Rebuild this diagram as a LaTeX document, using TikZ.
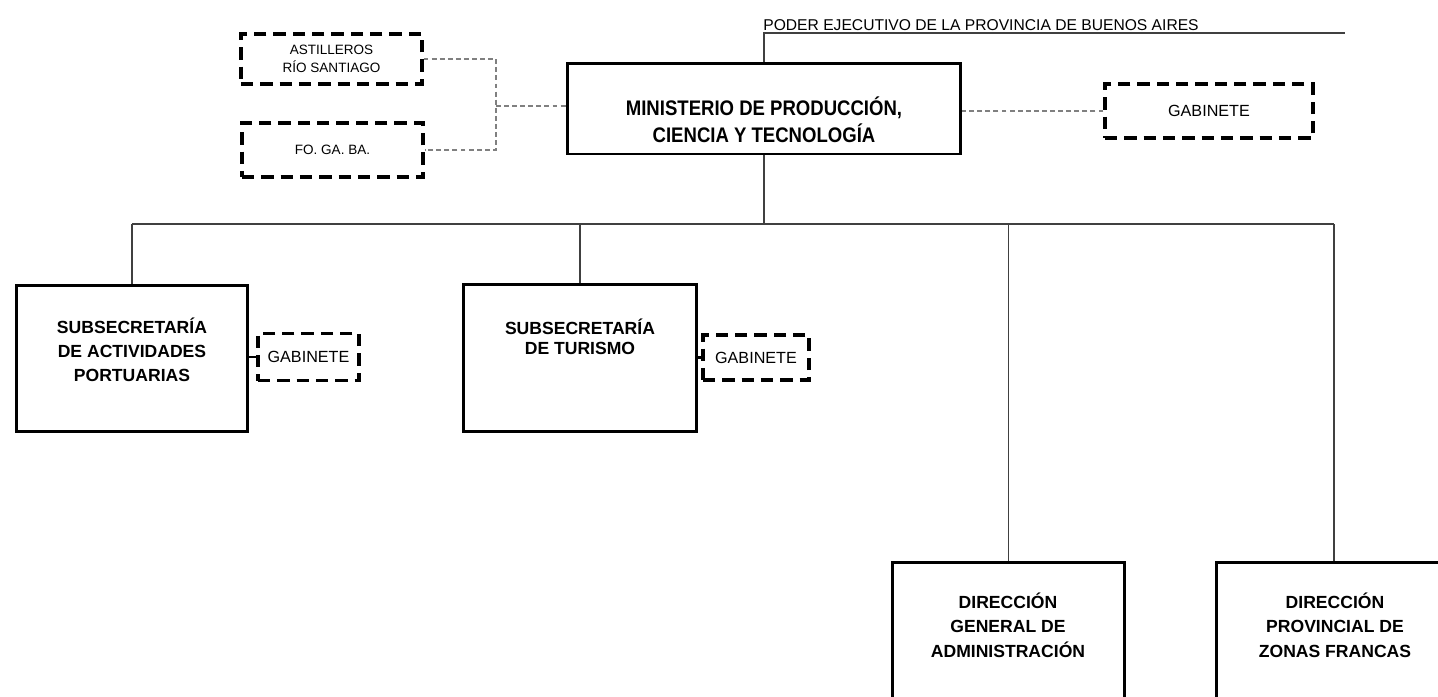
\documentclass[tikz,border=0pt]{standalone}
\usepackage{fontspec}
\setmainfont{Liberation Sans}
\newfontfamily\angosta[FakeStretch=0.88]{Liberation Sans}

\begin{document}
\begin{tikzpicture}[x=0.02cm,y=-0.02cm,
    caja/.style={draw=black,line width=1.7pt,inner sep=0pt},
    cajad/.style={draw=black,line width=1.8pt,dash pattern=on 7pt off 4pt,inner sep=0pt,align=center,font=\fontsize{9.2}{11}\selectfont},
    linea/.style={draw=black!75,line width=0.75pt},
    lineag/.style={draw=black!50,line width=0.6pt,dash pattern=on 2.8pt off 1.8pt},
    texto/.style={align=center,inner sep=0pt,font=\bfseries\fontsize{10}{13.7}\selectfont}]
    \clip (0,0) rectangle (1438,697);

    % Poder ejecutivo
    \coordinate (pe) at (764,33);
    \coordinate (pefin) at (1345,33);
    \node[anchor=south west,inner sep=0pt,font=\fontsize{8.9}{10}\selectfont] (poder) at (763,31) {PODER EJECUTIVO DE LA PROVINCIA DE BUENOS AIRES};

    % Ministerio
    \node[caja,minimum width=7.88cm,minimum height=1.82cm] (min) at (764,108.5) {};
    \node[texto,font=\angosta\bfseries\fontsize{12}{15.4}\selectfont] (mint) at (764,120) {MINISTERIO DE PRODUCCIÓN,\\CIENCIA Y TECNOLOGÍA};
    \draw[linea] (min.north) -- (pe) -- (pefin);

    % Organismos y gabinete del ministro
    \node[cajad,minimum width=3.62cm,minimum height=1cm,font=\fontsize{7.7}{10.2}\selectfont] (ast) at (331.5,59) {ASTILLEROS\\RÍO SANTIAGO};
    \node[cajad,minimum width=3.62cm,minimum height=1.08cm,font=\fontsize{7.7}{10.2}\selectfont] (fgb) at (332.5,150) {FO. GA. BA.};
    \node[cajad,minimum width=4.16cm,minimum height=1.08cm] (gab) at (1209,111) {GABINETE};
    \coordinate (izq) at (496,106);
    \draw[lineag] (ast.east) -| (izq) |- (fgb.east);
    \draw[lineag] (izq) -- (izq -| min.west);
    \draw[lineag] (gab.west) -- (gab.west -| min.east);

    % Subsecretarias
    \node[caja,minimum width=4.64cm,minimum height=2.94cm] (sap) at (132,358.5) {};
    \node[texto] (sapt) at (132,350) {SUBSECRETARÍA\\DE ACTIVIDADES\\PORTUARIAS};
    \node[cajad,minimum width=2.02cm,minimum height=0.94cm] (gsap) at (308.5,357) {GABINETE};
    \draw[line width=1.7pt] (gsap.west) -- (gsap.west -| sap.east);

    \node[caja,minimum width=4.68cm,minimum height=2.96cm] (stu) at (580,358) {};
    \node[texto,font=\bfseries\fontsize{10}{11.4}\selectfont] (stut) at (580,337) {SUBSECRETARÍA\\DE TURISMO};
    \node[cajad,minimum width=2.12cm,minimum height=0.9cm] (gstu) at (756,357.5) {GABINETE};
    \draw[line width=1.7pt] (gstu.west) -- (gstu.west -| stu.east);

    % Direcciones
    \node[caja,anchor=north,minimum width=4.66cm,minimum height=4cm] (dga) at (1008.5,561) {};
    \node[texto,font=\bfseries\fontsize{10}{14}\selectfont] (dgat) at (1008,625) {DIRECCIÓN\\GENERAL DE\\ADMINISTRACIÓN};
    \node[caja,anchor=north,minimum width=4.72cm,minimum height=4cm] (dpz) at (1334,561) {};
    \node[texto,font=\bfseries\fontsize{10}{14}\selectfont] (dpzt) at (1335,625) {DIRECCIÓN\\PROVINCIAL DE\\ZONAS FRANCAS};

    % Lineas de dependencia
    \coordinate (bus) at (764,224);
    \draw[linea] (min.south) -- (bus);
    \draw[linea] (sap.north |- bus) -- (dpz.north |- bus);
    \foreach \n in {sap,stu,dga,dpz}
        \draw[linea] (\n.north) -- (\n.north |- bus);
\end{tikzpicture}
\end{document}
